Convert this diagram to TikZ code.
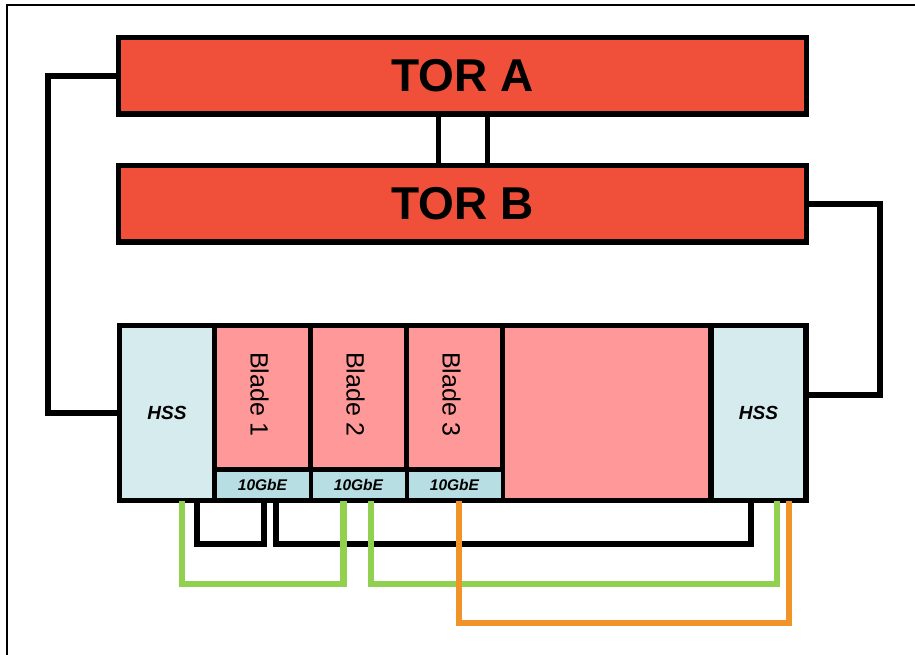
\documentclass[tikz,border=0pt]{standalone}
\usepackage{fontspec}
\setmainfont{Liberation Sans}
\usetikzlibrary{calc}
\definecolor{torred}{RGB}{240,80,58}
\definecolor{bladepink}{RGB}{255,153,153}
\definecolor{hssblue}{RGB}{214,235,238}
\definecolor{gbeblue}{RGB}{183,222,226}
\definecolor{lnkgreen}{RGB}{146,208,80}
\definecolor{lnkorange}{RGB}{240,148,42}
\begin{document}
\begin{tikzpicture}[x=1pt,y=-1pt,
  every node/.style={outer sep=0pt},
  torbox/.style={draw=black,line width=5.5pt,fill=torred,minimum width=688pt,minimum height=76.5pt,inner sep=0pt,
    font=\fontsize{46}{46}\selectfont\bfseries},
  cell/.style={draw=black,line width=5.5pt,inner sep=0pt,minimum height=175pt},
  hsscell/.style={cell,fill=hssblue,minimum width=95pt,font=\fontsize{19}{19}\selectfont\bfseries\itshape},
  bladecell/.style={draw=black,line width=5.5pt,inner sep=0pt,fill=bladepink,minimum width=96pt,minimum height=144pt},
  gbecell/.style={draw=black,line width=4pt,inner sep=0pt,fill=gbeblue,minimum width=96pt,minimum height=31pt,
    font=\fontsize{15.5}{15.5}\selectfont\bfseries\itshape},
  bladetext/.style={rotate=-90,font=\fontsize{25}{25}\selectfont,inner sep=0pt},
  blk/.style={draw=black,line width=6pt},
  grn/.style={draw=lnkgreen,line width=6.5pt},
  org/.style={draw=lnkorange,line width=6.5pt}]
\useasboundingbox (0,0) rectangle (915,655);
% frame
\draw[line width=1.5pt] (7,655) -- (7,5) -- (915,5);
% TOR switches
\node[torbox] (tora) at (462.5,75.75) {TOR A};
\node[torbox] (torb) at (462.5,203.75) {TOR B};
\draw[line width=5pt] ($(tora.south)+(-24,0)$) -- ($(torb.north)+(-24,0)$);
\draw[line width=5pt] ($(tora.south)+(24.5,0)$) -- ($(torb.north)+(24.5,0)$);
% chassis cells
\node[hsscell] (hssL) at (167,413) {HSS};
\node[bladecell] (bl1) at (262.5,397.5) {};
\node[bladecell] (bl2) at (358.5,397.5) {};
\node[bladecell] (bl3) at (454.5,397.5) {};
\node[cell,fill=bladepink,minimum width=208pt] (empty) at (606.5,413) {};
\node[hsscell] (hssR) at (758.5,413) {HSS};
\node[gbecell] (gbe1) at (262.5,485) {10GbE};
\node[gbecell] (gbe2) at (358.5,485) {10GbE};
\node[gbecell] (gbe3) at (454.5,485) {10GbE};
\draw[line width=5.5pt] (hssL.north west) rectangle (hssR.south east);
\node[bladetext] (t1) at ($(bl1)+(-3,-3)$) {Blade 1};
\node[bladetext] (t2) at ($(bl2)+(-3,-3)$) {Blade 2};
\node[bladetext] (t3) at ($(bl3)+(-3,-3)$) {Blade 3};
% uplinks
\draw[blk] (tora.west) -- ++(-70.5,0) |- (hssL.west);
\draw[blk] (torb.east) -- ++(73,0) |- ($(hssR.east)+(0,-18)$);
% bottom links
\draw[blk] ($(hssL.south)+(29.5,0)$) -- ++(0,43) -| ($(gbe1.south)+(1,0)$);
\draw[blk] ($(gbe1.south)+(13,0)$) -- ++(0,43) -| ($(hssR.south)+(-7.5,0)$);
\draw[grn] ($(hssL.south)+(15,0)$) -- ++(0,83.5) -| ($(gbe2.south)+(-15,0)$);
\draw[grn] ($(gbe2.south)+(12.5,0)$) -- ++(0,83.5) -| ($(hssR.south)+(18.5,0)$);
\draw[org] ($(gbe3.south)+(4.5,0)$) -- ++(0,122.5) -| ($(hssR.south)+(30.5,0)$);
\end{tikzpicture}
\end{document}
